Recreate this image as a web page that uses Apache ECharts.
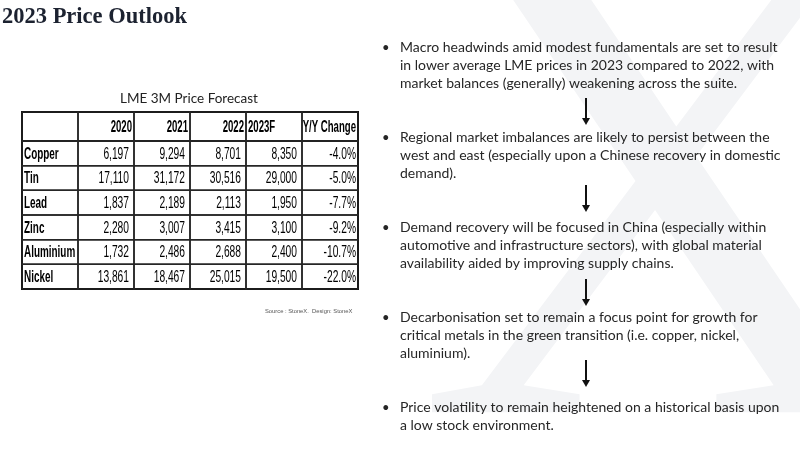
<!DOCTYPE html>
<html>
<head>
<meta charset="utf-8">
<script src="https://cdn.jsdelivr.net/npm/echarts@6/dist/echarts.min.js"></script>
<style>html,body{margin:0;padding:0;background:#fff}#chart{width:800px;height:450px}</style>
</head>
<body>
<div id="chart"></div>
<script>
// ---- data ----
const columns = ['', '2020', '2021', '2022', '2023F', 'Y/Y Change'];
const metals = ['Copper', 'Tin', 'Lead', 'Zinc', 'Aluminium', 'Nickel'];
const price2020 = [6197, 17110, 1837, 2280, 1732, 13861];
const price2021 = [9294, 31172, 2189, 3007, 2486, 18467];
const price2022 = [8701, 30516, 2113, 3415, 2688, 25015];
const price2023F = [8350, 29000, 1950, 3100, 2400, 19500];
const yoyChange = [-4.0, -5.0, -7.7, -9.2, -10.7, -22.0];

const pageTitle = '2023 Price Outlook';
const tableTitle = 'LME 3M Price Forecast';
const sourceNote = 'Source : StoneX.  Design: StoneX';
const outlookPoints = [
  'Macro headwinds amid modest fundamentals are set to result\nin lower average LME prices in 2023 compared to 2022, with\nmarket balances (generally) weakening across the suite.',
  'Regional market imbalances are likely to persist between the\nwest and east (especially upon a Chinese recovery in domestic\ndemand).',
  'Demand recovery will be focused in China (especially within\nautomotive and infrastructure sectors), with global material\navailability aided by improving supply chains.',
  'Decarbonisation set to remain a focus point for growth for\ncritical metals in the green transition (i.e. copper, nickel,\naluminium).',
  'Price volatility to remain heightened on a historical basis upon\na low stock environment.'
];

// ---- table cells (built from the arrays) ----
const fmtNum = v => v.toLocaleString('en-US');
const fmtPct = v => v.toFixed(1) + '%';
const headerCells = columns.map((c, j) => ({ value: [j, 0], text: c, kind: 'head' }));
const bodyCells = [];
metals.forEach((m, i) => {
  bodyCells.push({ value: [0, i], text: m, kind: 'label' });
  [price2020, price2021, price2022, price2023F].forEach((arr, k) => {
    bodyCells.push({ value: [k + 1, i], text: fmtNum(arr[i]), kind: 'num' });
  });
  bodyCells.push({ value: [5, i], text: fmtPct(yoyChange[i]), kind: 'pct' });
});

// ---- styles ----
const headAlign = ['left', 'right', 'right', 'right', 'left', 'right'];
const cellFont = 'Liberation Sans, Arial, sans-serif';
const lineColor = '#262626';

function makeRender(cells) {
  return function (params, api) {
    const cell = cells[params.dataIndex];
    const col = api.value(0), row = api.value(1);
    const c = api.coord([col, row]);
    const s = api.size([1, 1]);
    const x0 = c[0] - s[0] / 2, y0 = c[1] - s[1] / 2;
    let align = 'right', pad = 5, bold = false, sq = 0.64;
    if (cell.kind === 'label') { align = 'left'; pad = 2; bold = true; sq = 0.62; }
    else if (cell.kind === 'pct') { pad = 2; }
    else if (cell.kind === 'head') { align = headAlign[col]; pad = 2; bold = true; sq = 0.6; }
    const tx = align === 'left' ? x0 + pad : x0 + s[0] - pad;
    return {
      type: 'group',
      children: [
        { type: 'rect', shape: { x: x0, y: y0, width: s[0], height: s[1] },
          style: { fill: 'rgba(0,0,0,0)', stroke: lineColor, lineWidth: 1.5 } },
        { type: 'text', x: tx, y: c[1] + 1, scaleX: sq,
          style: { text: cell.text, align: align, verticalAlign: 'middle',
                   font: (bold ? 'bold ' : '') + '16px ' + cellFont, fill: '#000' } }
      ]
    };
  };
}

const hiddenAxis = { axisLine: { show: false }, axisTick: { show: false }, axisLabel: { show: false }, splitLine: { show: false } };

const option = {
  backgroundColor: '#fff',
  animation: false,
  grid: [
    { left: 22, top: 112, width: 336, height: 29, show: true, borderColor: '#000', borderWidth: 2, backgroundColor: 'transparent' },
    { left: 22, top: 141, width: 336, height: 148, show: true, borderColor: '#000', borderWidth: 2, backgroundColor: 'transparent' }
  ],
  xAxis: [
    Object.assign({ type: 'category', data: columns, gridIndex: 0 }, hiddenAxis),
    Object.assign({ type: 'category', data: columns, gridIndex: 1 }, hiddenAxis)
  ],
  yAxis: [
    Object.assign({ type: 'category', data: ['header'], gridIndex: 0 }, hiddenAxis),
    Object.assign({ type: 'category', data: metals, inverse: true, gridIndex: 1 }, hiddenAxis)
  ],
  series: [
    { type: 'custom', xAxisIndex: 0, yAxisIndex: 0, data: headerCells, renderItem: makeRender(headerCells), silent: true },
    { type: 'custom', xAxisIndex: 1, yAxisIndex: 1, data: bodyCells, renderItem: makeRender(bodyCells), silent: true }
  ],
  graphic: []
};

// watermark X
option.graphic.push({
  type: 'text', x: 666, y: 231, z: -10, silent: true,
  style: { text: 'X', font: '690px Liberation Serif, serif', fill: '#f3f4f6', align: 'center', verticalAlign: 'middle' }
});
// title
option.graphic.push({
  type: 'text', x: 2, y: 17.5,
  style: { text: pageTitle, font: 'bold 22.5px Liberation Serif, Times New Roman, serif', fill: '#1c2230', align: 'left', verticalAlign: 'middle' }
});
// table title
option.graphic.push({
  type: 'text', x: 189, y: 99,
  style: { text: tableTitle, font: '13.5px Lato, sans-serif', fill: '#222', align: 'center', verticalAlign: 'middle' }
});
// source
option.graphic.push({
  type: 'text', x: 265, y: 311,
  style: { text: sourceNote, font: '5.8px Liberation Sans, sans-serif', fill: '#555', align: 'left', verticalAlign: 'middle' }
});
// bullets and arrows
const blockTop = 38.7, blockStep = 90, lh = 18;
outlookPoints.forEach((p, i) => {
  const top = blockTop + i * blockStep;
  option.graphic.push({
    type: 'text', x: 382, y: top,
    style: { text: '•', font: '13px Lato, sans-serif', fill: '#262626', align: 'left', verticalAlign: 'top', lineHeight: lh }
  });
  option.graphic.push({
    type: 'text', x: 400, y: top,
    style: { text: p, font: '14px Lato, sans-serif', fill: '#262626', align: 'left', verticalAlign: 'top', lineHeight: lh }
  });
});
const arrowSpans = [[98, 125], [185, 212], [279, 306], [360, 387]];
arrowSpans.forEach(([a, b]) => {
  option.graphic.push({ type: 'line', shape: { x1: 586, y1: a, x2: 586, y2: b - 6 }, style: { stroke: '#111', lineWidth: 2 } });
  option.graphic.push({ type: 'polygon', shape: { points: [[582, b - 7], [590, b - 7], [586, b]] }, style: { fill: '#111' } });
});

const chart = echarts.init(document.getElementById('chart'), null, { renderer: 'canvas' });
chart.setOption(option);
</script>
</body>
</html>
